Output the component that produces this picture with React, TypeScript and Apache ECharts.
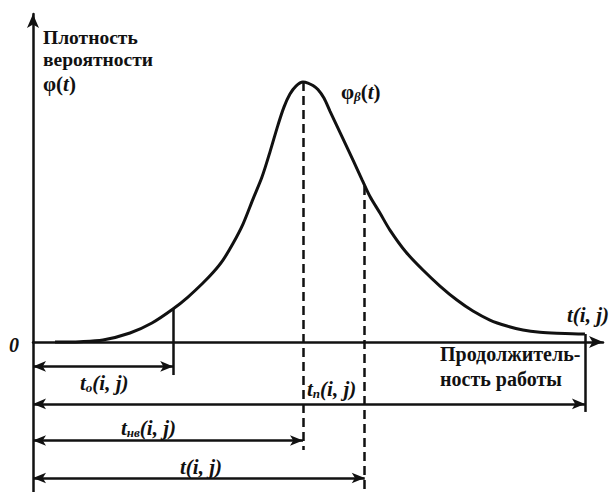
import React, { useEffect, useRef } from "react";
import * as echarts from "echarts";

// Beta density curve (t in relative units, density with peak = 100)
const curveT = [3.81, 8.15, 12.13, 16.81, 20.62, 24.26, 26.86, 29.46, 31.2, 32.93, 34.66, 36.4, 38.13, 39.69, 41.07, 42.46, 43.5, 44.54, 45.58, 46.79, 47.66, 48.53, 49.39, 50.43, 51.47, 52.86, 54.25, 55.63, 57.02, 58.41, 60.14, 61.87, 64.64, 67.59, 70.54, 73.48, 76.26, 79.2, 82.15, 84.92, 87.87, 90.81, 95.32, 95.67];
const curveDensity = [0, 0.15, 0.77, 3.46, 7.31, 12.69, 17.31, 22.69, 26.73, 31.54, 37.88, 45.38, 55.0, 63.46, 73.08, 83.46, 90.38, 95.38, 98.46, 100, 99.62, 98.65, 97.12, 93.85, 88.85, 82.31, 75.77, 69.23, 62.5, 55.96, 49.62, 43.08, 34.62, 27.69, 21.54, 16.15, 11.92, 8.46, 6.15, 4.62, 3.73, 3.35, 3.08, 3.08];

// Key durations
const tOpt = 24.3;   // t_о(i, j)
const tMode = 46.8;  // t_нв(i, j)
const tExp = 57.5;   // t(i, j)
const tPess = 95.67; // t_п(i, j)

// Density at the key durations
const dOpt = 12.7;
const dMode = 100;
const dExp = 60.0;
const dPess = 3.08;

const SERIF = "Liberation Serif";

export default function App() {
  const ref = useRef<HTMLDivElement>(null);

  useEffect(() => {
    if (!ref.current) return;
    const chart = echarts.init(ref.current, null, { renderer: "svg" });

    const yMin = -57.7;
    const yMax = 126.2;
    // annotation rows (below the time axis)
    const rowOpt = -9.4;
    const rowPess = -23.8;
    const rowMode = -37.9;
    const rowExp = -52.3;

    const black = "#111";
    const arrowLine = (x: number, y: number) => [
      { coord: [0, y] },
      { coord: [x, y] },
    ];

    const fnt = (size: number, italic: boolean) => ({
      fontFamily: SERIF,
      fontSize: size,
      fontWeight: "bold",
      fontStyle: italic ? "italic" : "normal",
      fill: black,
    });

    const lbl = (text: string, x: number, y: number, size: number, italic: boolean, rich?: any) => ({
      type: "text",
      x,
      y,
      silent: true,
      style: {
        text,
        x: 0,
        y: 0,
        ...fnt(size, italic),
        align: "left",
        textAlign: "left",
        verticalAlign: "middle",
        textVerticalAlign: "middle",
        rich,
      },
    });

    const subRich = {
      t: { ...fnt(21, true) },
      s: { ...fnt(13, true), verticalAlign: "bottom", padding: [9, 0, 0, 0] },
      n: { ...fnt(21, false) },
    };

    chart.setOption({
      animation: false,
      grid: { left: 33, right: 7, top: 14, bottom: 0, containLabel: false },
      xAxis: {
        type: "value",
        min: 0,
        max: 98.8,
        axisLine: {
          show: true,
          onZero: true,
          symbol: ["none", "arrow"],
          symbolSize: [9, 14],
          lineStyle: { color: black, width: 2.5 },
        },
        axisTick: { show: false },
        axisLabel: { show: false },
        splitLine: { show: false },
      },
      yAxis: {
        type: "value",
        min: yMin,
        max: yMax,
        axisLine: {
          show: true,
          onZero: true,
          symbol: ["none", "arrow"],
          symbolSize: [9, 14],
          lineStyle: { color: black, width: 2.5 },
        },
        axisTick: { show: false },
        axisLabel: { show: false },
        splitLine: { show: false },
      },
      series: [
        {
          type: "line",
          data: curveT.map((t, i) => [t, curveDensity[i]]),
          smooth: 0.3,
          symbol: "none",
          silent: true,
          lineStyle: { color: black, width: 3 },
          z: 5,
        },
        {
          // solid verticals at t_о and t_п
          type: "line",
          data: [],
          silent: true,
          markLine: {
            silent: true,
            symbol: ["none", "none"],
            label: { show: false },
            lineStyle: { color: black, width: 2.5, type: "solid" },
            data: [
              [{ coord: [tOpt, dOpt] }, { coord: [tOpt, -12.7] }],
              [{ coord: [tPess, dPess] }, { coord: [tPess, -26.9] }],
            ],
          },
        },
        {
          // dashed verticals at t_нв and t
          type: "line",
          data: [],
          silent: true,
          markLine: {
            silent: true,
            symbol: ["none", "none"],
            label: { show: false },
            lineStyle: { color: black, width: 2.5, type: [9, 5] },
            data: [
              [{ coord: [tMode, dMode] }, { coord: [tMode, -41.5] }],
              [{ coord: [tExp, dExp] }, { coord: [tExp, yMin] }],
            ],
          },
        },
        {
          // duration arrows
          type: "line",
          data: [],
          silent: true,
          markLine: {
            silent: true,
            symbol: ["arrow", "arrow"],
            symbolSize: [8, 13],
            label: { show: false },
            lineStyle: { color: black, width: 2.5, type: "solid" },
            data: [
              arrowLine(tOpt, rowOpt),
              arrowLine(tPess, rowPess),
              arrowLine(tMode, rowMode),
              arrowLine(tExp, rowExp),
            ],
          },
        },
      ],
      graphic: [
        lbl("Плотность", 43, 37, 19.5, false),
        lbl("вероятности", 43, 59, 19.5, false),
        lbl("{n|φ(}{t|t}{n|)}", 43, 84, 21, false, subRich),
        lbl("{n|φ}{s|β}{n|(}{t|t}{n|)}", 341, 92, 21, false, subRich),
        lbl("0", 9, 345, 20, true),
        lbl("t(i, j)", 567, 315, 21, true),
        lbl("Продолжитель-", 440, 354, 20, false),
        lbl("ность работы", 440, 379, 20, false),
        lbl("{t|t}{s|о}{t|(i, j)}", 80, 383, 21, true, subRich),
        lbl("{t|t}{s|п}{t|(i, j)}", 307, 389, 21, true, subRich),
        lbl("{t|t}{s|нв}{t|(i, j)}", 121, 428, 21, true, subRich),
        lbl("t(i, j)", 180, 467, 21, true),
      ],
    });

    return () => chart.dispose();
  }, []);

  return (
    <div
      ref={ref}
      style={{ position: "fixed", left: 0, top: 0, width: 610, height: 492, background: "#fff" }}
    />
  );
}
